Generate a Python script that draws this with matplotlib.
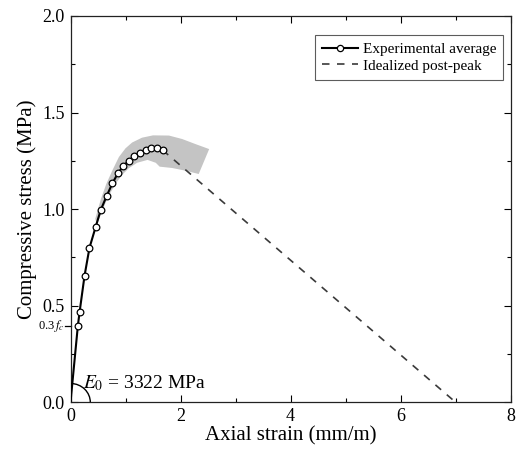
import matplotlib
matplotlib.use("Agg")
import matplotlib.pyplot as plt
import numpy as np
from matplotlib.patches import Arc, Polygon
from matplotlib.ticker import MultipleLocator, FormatStrFormatter

plt.rcParams["font.family"] = ["Liberation Serif", "DejaVu Serif"]
plt.rcParams["mathtext.fontset"] = "stix"

# averaged experimental curve (strain in mm/m, stress in MPa)
exp_strain = [0.0, 0.133, 0.164, 0.255, 0.345, 0.455, 0.55, 0.66, 0.76, 0.86,
              0.958, 1.06, 1.158, 1.255, 1.364, 1.467, 1.564, 1.673]
exp_stress = [0.0, 0.394, 0.465, 0.655, 0.80, 0.906, 0.996, 1.07, 1.133, 1.185,
              1.223, 1.251, 1.273, 1.292, 1.306, 1.314, 1.316, 1.306]

# idealized linear softening branch after the peak
post_strain = [1.673, 7.0]
post_stress = [1.306, 0.0]

# scatter envelope of the tests (upper edge, then lower edge back)
band_upper_x = [0.45, 0.55, 0.65, 0.76, 0.88, 1.0, 1.12, 1.30, 1.50, 1.79, 2.03, 2.27, 2.52]
band_upper_y = [0.95, 1.05, 1.13, 1.20, 1.27, 1.315, 1.345, 1.37, 1.382, 1.381, 1.363, 1.337, 1.311]
band_lower_x = [2.33, 2.09, 1.85, 1.62, 1.55, 1.40, 1.21, 1.06, 0.94, 0.82, 0.73, 0.64, 0.55, 0.48]
band_lower_y = [1.182, 1.199, 1.213, 1.22, 1.24, 1.255, 1.24, 1.212, 1.178, 1.132, 1.087, 1.035, 0.97, 0.92]

fc_03 = 0.394
E0_label = r"$E_{\mathit{0}}$ = 3322 MPa"

fig = plt.figure(figsize=(5.23, 4.53), dpi=100)
ax = fig.add_axes([0.1348, 0.1119, 0.8417, 0.8528])

band = Polygon(np.column_stack([band_upper_x + band_lower_x, band_upper_y + band_lower_y]),
               closed=True, facecolor="#c4c4c4", edgecolor="none", zorder=1)
ax.add_patch(band)

# proxy for legend handle (line with centred marker)
ax.plot([], [], color="black", lw=1.5, marker="o", ms=4.5, mfc="white", mec="black",
        mew=0.9, label="Experimental average")
ax.plot(post_strain, post_stress, ls=(0, (4.5, 4.5)), color="#3a3a3a", lw=1.2,
        label="Idealized post-peak", zorder=2)
ax.plot(exp_strain, exp_stress, color="black", lw=1.5, zorder=3)
ax.plot(exp_strain[1:], exp_stress[1:], ls="none", marker="o", ms=4.8,
        mfc="white", mec="black", mew=0.9, zorder=4)

ax.set_xlim(0, 8)
ax.set_ylim(0, 2.0)
ax.xaxis.set_major_locator(MultipleLocator(2))
ax.xaxis.set_minor_locator(MultipleLocator(1))
ax.yaxis.set_major_locator(MultipleLocator(0.5))
ax.yaxis.set_minor_locator(MultipleLocator(0.25))
ax.yaxis.set_major_formatter(FormatStrFormatter("%.1f"))
ax.tick_params(which="both", direction="in", top=True, right=True, width=0.8)
ax.tick_params(which="major", length=5, labelsize=13, pad=4)
ax.tick_params(which="minor", length=3)
for sp in ax.spines.values():
    sp.set_linewidth(0.9)
    sp.set_color("#222222")

ax.set_xlabel("Axial strain (mm/m)", fontsize=15, labelpad=1)
ax.set_ylabel("Compressive stress (MPa)", fontsize=15, labelpad=4)

# 0.3 f_c marker on the y axis
ax.plot([-0.1, 0.0], [fc_03, fc_03], color="black", lw=0.9, clip_on=False)
ax.text(-0.12, fc_03, r"0.3$\,f_c$", fontsize=9, ha="right", va="center")

# initial modulus arc
arc = Arc((0, 0), 0.72, 0.195, theta1=0, theta2=84, color="black", lw=1.0, zorder=3)
ax.add_patch(arc)
ax.text(0.22, 0.075, E0_label, fontsize=14)

leg = ax.legend(loc="upper right", bbox_to_anchor=(0.983, 0.95), fontsize=11,
                frameon=True, fancybox=False, edgecolor="#333333", handlelength=2.4,
                borderpad=0.45, labelspacing=0.2, handletextpad=0.3, borderaxespad=0)
leg.get_frame().set_linewidth(0.8)

fig.savefig("out.png", dpi=100)
